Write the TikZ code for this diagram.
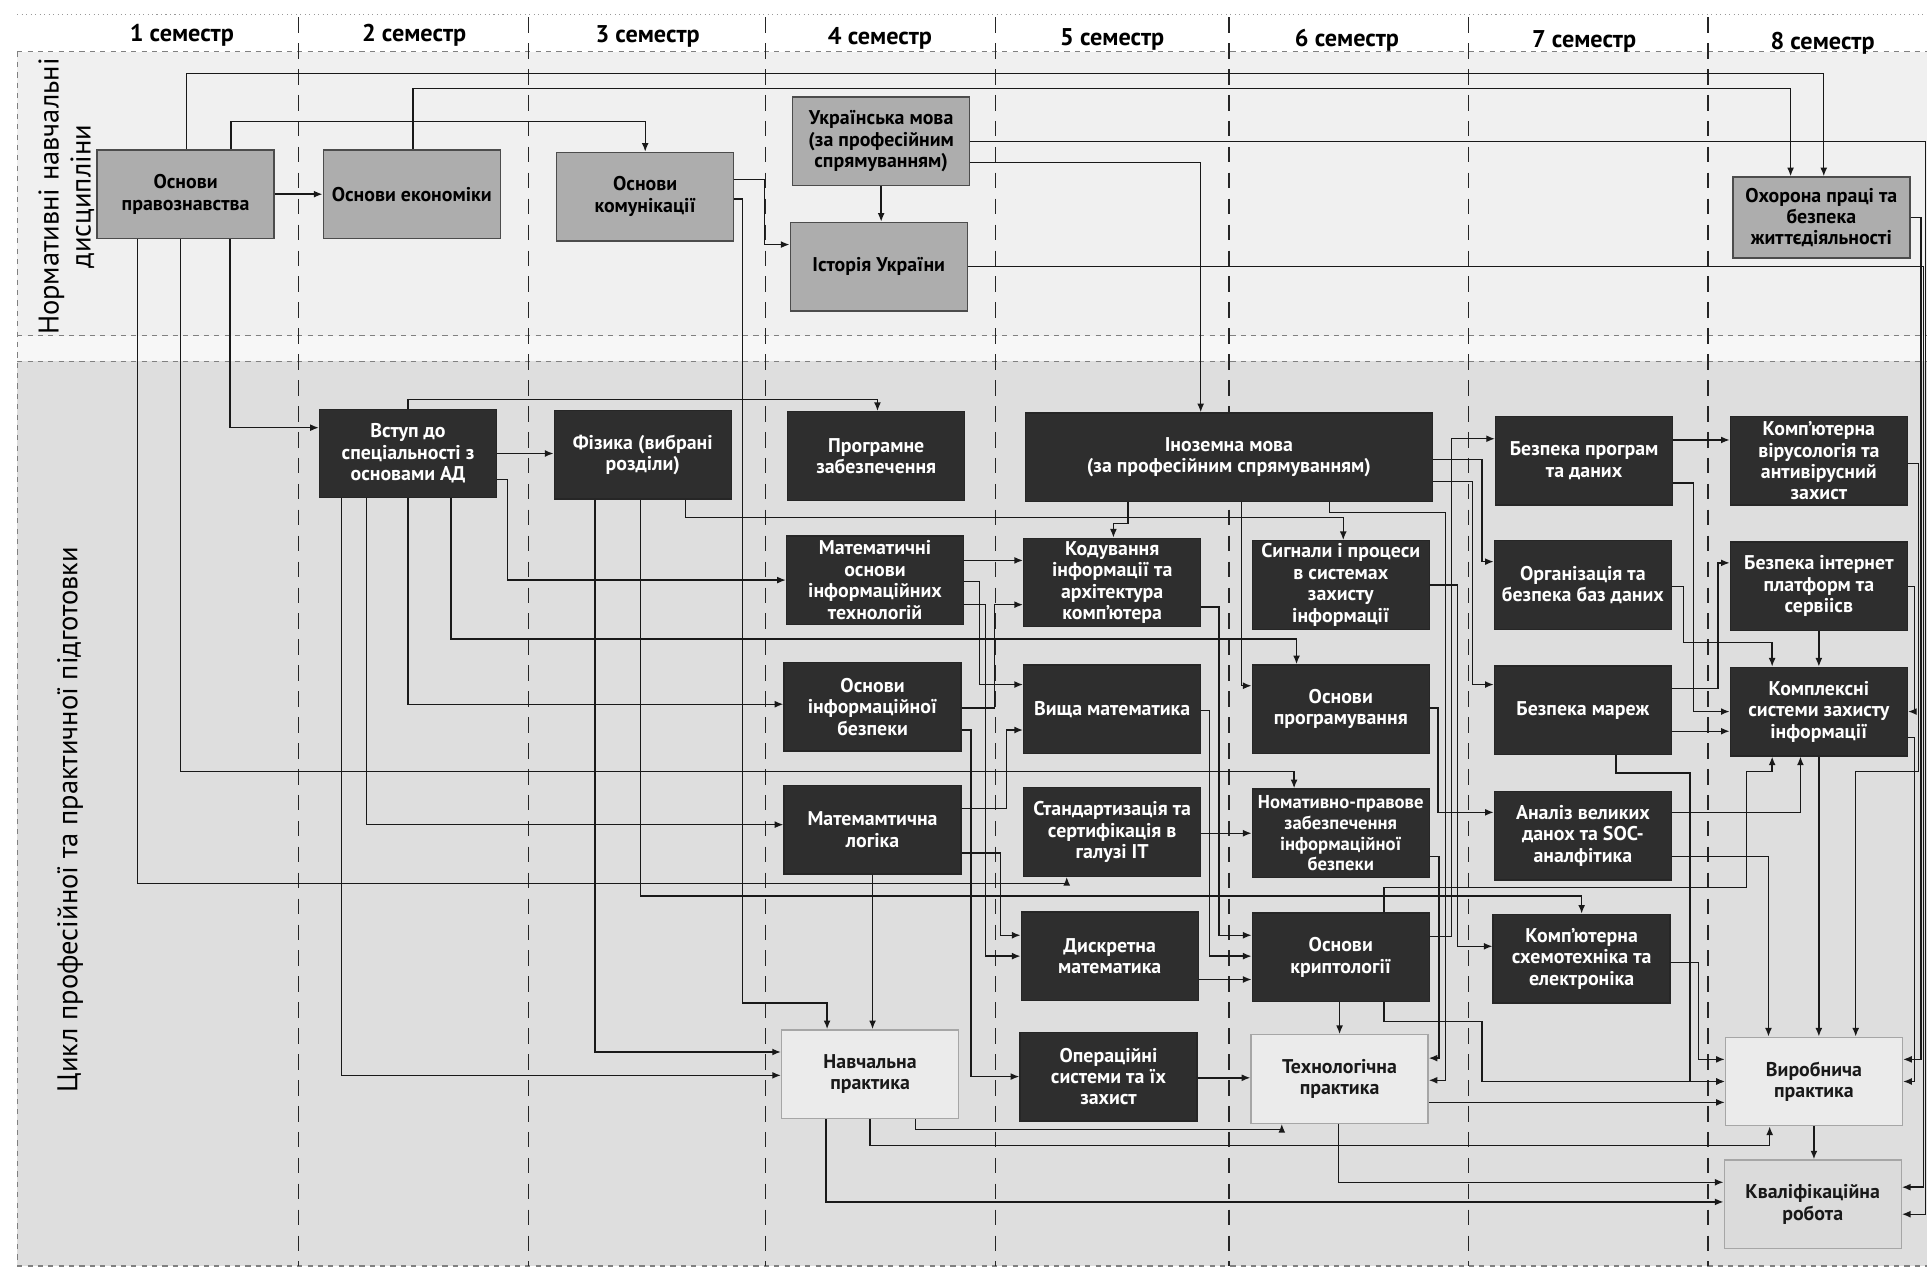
\documentclass[tikz,border=0pt]{standalone}
\usepackage{fontspec}
\setmainfont{PT Sans}
\usetikzlibrary{arrows.meta}

\tikzset{
  normbox/.style={draw=black!70, line width=0.8pt, fill=black!32, text=black,
    minimum width=3.6cm, minimum height=1.8cm, inner sep=1pt, align=center,
    font=\bfseries\fontsize{11.5}{12.4}\selectfont},
  darkbox/.style={draw=black!85, line width=0.8pt, fill=black!82, text=white,
    minimum width=3.6cm, minimum height=1.8cm, inner sep=1pt, align=center,
    font=\bfseries\fontsize{11.5}{12.4}\selectfont},
  lightbox/.style={draw=black!35, line width=0.8pt, fill=black!8, text=black!90,
    minimum width=3.6cm, minimum height=1.8cm, inner sep=1pt, align=center,
    font=\bfseries\fontsize{11.5}{12.4}\selectfont},
  arr/.style={black!90, line width=0.8pt, -{Latex[length=5pt,width=4pt]}},
  semlabel/.style={font=\bfseries\fontsize{14}{16}\selectfont},
  divider/.style={black!85, line width=0.9pt, dash pattern=on 9pt off 6pt},
  bandline/.style={black!50, line width=0.8pt, dash pattern=on 3pt off 3pt},
  sidelabel/.style={rotate=90, align=center, font=\fontsize{16.5}{18.5}\selectfont}
}

\begin{document}
\begin{tikzpicture}[x=0.025cm, y=-0.025cm]
\useasboundingbox (0,0) rectangle (1568,1035);

\fill[white] (0,0) rectangle (1568,1035);
\fill[black!6] (14,42) rectangle (1568,273);
\fill[black!3] (14,273) rectangle (1568,294);
\fill[black!13] (14,294) rectangle (1568,1030);
\draw[black!40, dotted, line width=0.6pt] (14,12) -- (1568,12);
\draw[bandline] (14,42) -- (1568,42);
\draw[bandline] (14,273) -- (1568,273);
\draw[bandline] (14,294) -- (1568,294);
\draw[bandline] (14,1030) -- (1568,1030);
\draw[bandline] (14,42) -- (14,1030);

\node[semlabel] (sem1) at (148,29) {1 семестр};
\node[semlabel] (sem2) at (337,29) {2 семестр};
\node[semlabel] (sem3) at (527,30) {3 семестр};
\node[semlabel] (sem4) at (716,31) {4 семестр};
\node[semlabel] (sem5) at (905,32) {5 семестр};
\node[semlabel] (sem6) at (1096,33) {6 семестр};
\node[semlabel] (sem7) at (1289,34) {7 семестр};
\node[semlabel] (sem8) at (1483,35) {8 семестр};

\draw[divider] (243,14) -- (243,1030);
\draw[divider] (430,14) -- (430,1030);
\draw[divider] (623,14) -- (623,1030);
\draw[divider] (810,14) -- (810,1030);
\draw[divider] (1000,14) -- (1000,1030);
\draw[divider] (1195,14) -- (1195,1030);
\draw[divider] (1390,14) -- (1390,1030);

\node[sidelabel] (normlabel) at (54,160) {Нормативні навчальні\\дисципліни};
\node[sidelabel] (cycllabel) at (57,667) {Цикл професійної та практичної підготовки};

\node[normbox] (pravo) at (151,158) {Основи\\правознавства};
\node[normbox] (ekon) at (335,158) {Основи економіки};
\node[normbox] (komun) at (525,160) {Основи\\комунікації};
\node[normbox] (ukrmova) at (717,115) {Українська мова\\(за професійним\\спрямуванням)};
\node[normbox] (istor) at (715,217) {Історія України};
\node[normbox, minimum height=1.65cm] (okhor) at (1482,177) {Охорона праці та\\безпека\\життєдіяльності};

\node[darkbox] (vstup) at (332,369) {Вступ до\\спеціальності з\\основами АД};
\node[darkbox] (fiz) at (523,370) {Фізика (вибрані\\розділи)};
\node[darkbox] (progzab) at (713,371) {Програмне\\забезпечення};
\node[darkbox, minimum width=8.28cm] (inozem) at (1000,372) {Іноземна мова\\(за професійним спрямуванням)};
\node[darkbox] (bezprog) at (1289,375) {Безпека програм\\та даних};
\node[darkbox] (virus) at (1480,375) {Комп'ютерна\\вірусологія та\\антивірусний\\захист};

\node[darkbox] (matosn) at (712,472) {Математичні\\основи\\інформаційних\\технологій};
\node[darkbox] (koduv) at (905,474) {Кодування\\інформації та\\архітектура\\комп'ютера};
\node[darkbox] (signal) at (1091,476) {Сигнали і процеси\\в системах\\захисту\\інформації};
\node[darkbox] (orgbd) at (1288,476) {Організація та\\безпека баз даних};
\node[darkbox] (internet) at (1480,477) {Безпека інтернет\\платформ та\\сервіісв};

\node[darkbox] (osnib) at (710,575) {Основи\\інформаційної\\безпеки};
\node[darkbox] (vyshcha) at (905,577) {Вища математика};
\node[darkbox] (osnprog) at (1091,577) {Основи\\програмування};
\node[darkbox] (merezh) at (1288,578) {Безпека мареж};
\node[darkbox] (kompl) at (1480,579) {Комплексні\\системи захисту\\інформації};

\node[darkbox] (mlog) at (710,675) {Матемамтична\\логіка};
\node[darkbox] (standart) at (905,677) {Стандартизація та\\сертифікація в\\галузі ІТ};
\node[darkbox, font=\bfseries\fontsize{10.8}{12}\selectfont] (normprav) at (1091,678) {Номативно-правове\\забезпечення\\інформаційної\\безпеки};
\node[darkbox] (analiz) at (1288,680) {Аналіз великих\\данох та SOC-\\аналфітика};

\node[darkbox] (dyskr) at (903,778) {Дискретна\\математика};
\node[darkbox] (kript) at (1091,779) {Основи\\криптології};
\node[darkbox] (skhemo) at (1287,780) {Комп'ютерна\\схемотехніка та\\електроніка};

\node[lightbox] (navch) at (708,874) {Навчальна\\практика};
\node[darkbox] (opsys) at (902,876) {Операційні\\системи та їх\\захист};
\node[lightbox] (tekhn) at (1090,878) {Технологічна\\практика};
\node[lightbox] (vyrob) at (1476,880) {Виробнича\\практика};
\node[lightbox, fill=black!14] (kvalif) at (1475,980) {Кваліфікаційна\\робота};

\draw[arr] (pravo.north -| 152,0) |- (1484,60) -- (okhor.north -| 1484,0);
\draw[arr] (ekon.north -| 336,0) |- (1457,72) -- (okhor.north -| 1457,0);
\draw[arr] (pravo.north -| 188,0) |- (525,99) -- (komun.north);
\draw[arr] (pravo) -- (ekon);
\draw[arr] (komun.east |- 0,146) -| (622,199) -- (istor.west |- 0,199);
\draw[arr] (komun.east |- 0,162) -| (604,816) -| (navch.north -| 673,0);
\draw[arr] (ukrmova.south) -- (istor.north -| ukrmova.south);
\draw[arr] (ukrmova.east |- 0,115) -| (1567,988) -- (kvalif.east |- 0,988);
\draw[arr] (ukrmova.east |- 0,132) -| (inozem.north -| 977,0);
\draw[arr] (istor.east |- 0,217) -| (1565,966) -- (kvalif.east |- 0,966);
\draw[arr] (okhor.east |- 0,177) -| (1563,862) -- (vyrob.east |- 0,862);

\draw[arr] (pravo.south -| 187,0) |- (vstup.west |- 0,348);
\draw[arr] (pravo.south -| 147,0) |- (1053,628) -- (normprav.north -| 1053,0);
\draw[arr] (pravo.south -| 112,0) |- (868,719) -- (standart.south -| 868,0);

\draw[arr] (vstup.north -| 332,0) |- (714,325) -- (progzab.north -| 714,0);
\draw[arr] (vstup.east |- 0,369) -- (fiz.west |- 0,369);
\draw[arr] (vstup.east |- 0,390) -| (413,472) -- (matosn.west |- 0,472);
\draw[arr] (vstup.south -| 367,0) |- (1055,520) -- (osnprog.north -| 1055,0);
\draw[arr] (vstup.south -| 332,0) |- (osnib.west |- 0,573);
\draw[arr] (vstup.south -| 298,0) |- (mlog.west |- 0,671);
\draw[arr] (vstup.south -| 278,0) |- (navch.west |- 0,875);

\draw[arr] (fiz.south -| 558,0) |- (1093,421) -- (signal.north -| 1093,0);
\draw[arr] (fiz.south -| 521,0) |- (1287,729) -- (skhemo.north -| 1287,0);
\draw[arr] (fiz.south -| 484,0) |- (navch.west |- 0,856);

\draw[arr] (inozem.south -| 918,0) |- (906,426) -- (koduv.north -| 906,0);
\draw[arr] (inozem.south -| 1010,0) |- (osnprog.west |- 0,558);
\draw[arr] (inozem.south -| 1082,0) |- (1176,417) |- (tekhn.east |- 0,879);
\draw[arr] (inozem.east |- 0,374) -| (1206,457) -- (orgbd.west |- 0,457);
\draw[arr] (inozem.east |- 0,392) -| (1198,557) -- (merezh.west |- 0,557);

\draw[arr] (matosn.east |- 0,456) -- (koduv.west |- 0,456);
\draw[arr] (matosn.east |- 0,473) -| (797,557) -- (vyshcha.west |- 0,557);
\draw[arr] (matosn.east |- 0,492) -| (802,778) -- (dyskr.west |- 0,778);
\draw[arr] (osnib.east |- 0,576) -| (809,492) -- (koduv.west |- 0,492);
\draw[arr] (osnib.east |- 0,594) -| (790,876) -- (opsys.west |- 0,876);
\draw[arr] (mlog.east |- 0,658) -| (819,594) -- (vyshcha.west |- 0,594);
\draw[arr] (mlog.east |- 0,694) -| (814,761) -- (dyskr.west |- 0,761);
\draw[arr] (mlog.south) -- (navch.north -| mlog.south);

\draw[arr] (koduv.east |- 0,494) -| (992,761) -- (kript.west |- 0,761);
\draw[arr] (vyshcha.east |- 0,578) -| (984,778) -- (kript.west |- 0,778);
\draw[arr] (standart.east |- 0,678) -- (normprav.west |- 0,678);
\draw[arr] (dyskr.east |- 0,797) -- (kript.west |- 0,797);
\draw[arr] (opsys.east |- 0,877) -- (tekhn.west |- 0,877);

\draw[arr] (signal.east |- 0,476) -| (1186,770) -- (skhemo.west |- 0,770);
\draw[arr] (osnprog.east |- 0,576) -| (1170,661) -- (analiz.west |- 0,661);
\draw[arr] (normprav.east |- 0,697) -| (1171,861) -- (tekhn.east |- 0,861);
\draw[arr] (kript.south -| 1090,0) -- (tekhn.north -| 1090,0);
\draw[arr] (kript.south -| 1126,0) |- (1206,831) |- (vyrob.west |- 0,880);
\draw[arr] (kript.north -| 1126,0) |- (1421,722) |- (1442,628) -- (kompl.south -| 1442,0);
\draw[arr] (kript.east |- 0,762) -| (1181,357) -- (bezprog.west |- 0,357);

\draw[arr] (bezprog.east |- 0,358) -- (virus.west |- 0,358);
\draw[arr] (bezprog.east |- 0,393) -| (1378,579) -- (kompl.west |- 0,579);
\draw[arr] (orgbd.east |- 0,477) -| (1370,523) -| (kompl.north -| 1442,0);
\draw[arr] (merezh.east |- 0,560) -| (1398,458) -- (internet.west |- 0,458);
\draw[arr] (merezh.east |- 0,595) -- (kompl.west |- 0,595);
\draw[arr] (merezh.south -| 1315,0) |- (1375,629) |- (vyrob.west |- 0,880);
\draw[arr] (analiz.east |- 0,661) -| (kompl.south -| 1465,0);
\draw[arr] (analiz.east |- 0,697) -| (vyrob.north -| 1439,0);
\draw[arr] (skhemo.east |- 0,783) -| (1382,862) -- (vyrob.west |- 0,862);

\draw[arr] (virus.east |- 0,377) -| (1561,628) -| (vyrob.north -| 1510,0);
\draw[arr] (internet.east |- 0,477) -| (1558,579) -- (kompl.east |- 0,579);
\draw[arr] (internet.south) -- (kompl.north);
\draw[arr] (kompl.south) -- (vyrob.north -| kompl.south);
\draw[arr] (kompl.east |- 0,600) -| (1558,880) -- (vyrob.east |- 0,880);

\draw[arr] (navch.south -| 745,0) |- (1043,919) -- (tekhn.south -| 1043,0);
\draw[arr] (navch.south -| 708,0) |- (1440,932) -- (vyrob.south -| 1440,0);
\draw[arr] (navch.south -| 672,0) |- (kvalif.west |- 0,978);
\draw[arr] (tekhn.south -| 1089,0) |- (kvalif.west |- 0,962);
\draw[arr] (tekhn.east |- 0,897) -- (vyrob.west |- 0,897);
\draw[arr, line width=1.3pt] (vyrob.south) -- (kvalif.north -| vyrob.south);

\end{tikzpicture}
\end{document}
